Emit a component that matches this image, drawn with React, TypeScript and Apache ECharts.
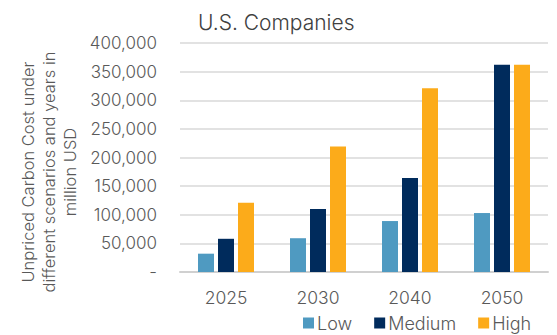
import React, { useEffect, useRef } from "react";
import * as echarts from "echarts";

const categories = ["2025", "2030", "2040", "2050"];
const lowValues = [32000, 59000, 89000, 103000];
const mediumValues = [58000, 110000, 164000, 362000];
const highValues = [121000, 219000, 321000, 362000];
const seriesNames = ["Low", "Medium", "High"];

export default function App() {
  const ref = useRef<HTMLDivElement>(null);
  useEffect(() => {
    if (!ref.current) return;
    const chart = echarts.init(ref.current, null, { renderer: "svg" });
    const font = "Inter, Roboto, sans-serif";
    chart.setOption({
      animation: false,
      textStyle: { fontFamily: font, fontWeight: 300 },
      title: {
        text: "U.S. Companies",
        left: 193,
        top: 7,
        textStyle: { fontFamily: font, fontSize: 21, fontWeight: 300, color: "#404040" },
      },
      grid: { left: 180, right: 9, top: 43, bottom: 63 },
      legend: {
        data: seriesNames,
        top: 309,
        left: 298,
        itemWidth: 11,
        itemHeight: 11,
        itemGap: 22,
        icon: "rect",
        textStyle: {
          fontFamily: font,
          fontSize: 18,
          lineHeight: 16,
          fontWeight: 300,
          color: "#595959",
          padding: [0, 0, 0, -2],
        },
      },
      graphic: [
        {
          type: "text",
          x: 49,
          y: 172,
          rotation: Math.PI / 2,
          style: {
            text: "Unpriced Carbon Cost under\ndifferent scenarios and years in\nmillion USD",
            fontFamily: font,
            fontWeight: 300,
            fontSize: 16.5,
            lineHeight: 21,
            fill: "#595959",
            align: "center",
            verticalAlign: "middle",
          },
        },
      ],
      xAxis: {
        type: "category",
        data: categories,
        axisTick: { show: false },
        axisLine: { lineStyle: { color: "#d0d0d0", width: 2 } },
        axisLabel: { color: "#595959", fontSize: 17.5, lineHeight: 16, fontWeight: 300, margin: 17, fontFamily: font },
      },
      yAxis: {
        type: "value",
        min: 0,
        max: 400000,
        interval: 50000,
        axisLine: { show: false },
        axisTick: { show: false },
        splitLine: { lineStyle: { color: "#d9d9d9", width: 1.5 } },
        axisLabel: {
          color: "#595959",
          fontSize: 17,
          fontWeight: 300,
          margin: 23,
          fontFamily: font,
          formatter: (v: number) => (v === 0 ? "-" : v.toLocaleString("en-US")),
        },
      },
      series: [
        { name: "Low", type: "bar", data: lowValues, itemStyle: { color: "#4f9ac1" }, barWidth: 16, barGap: "25%" },
        { name: "Medium", type: "bar", data: mediumValues, itemStyle: { color: "#002b5c" }, barWidth: 16, barGap: "25%" },
        { name: "High", type: "bar", data: highValues, itemStyle: { color: "#fcab1a" }, barWidth: 16, barGap: "25%" },
      ],
    });
    return () => chart.dispose();
  }, []);
  return <div ref={ref} style={{ width: 557, height: 335, position: "absolute", left: 0, top: 0 }} />;
}
